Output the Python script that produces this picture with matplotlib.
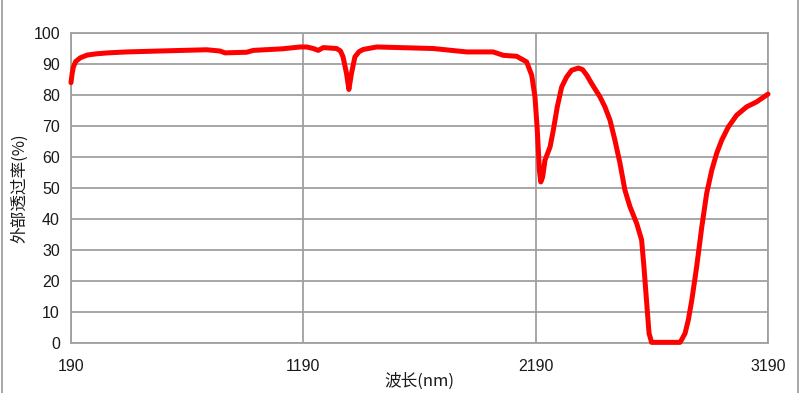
import matplotlib
matplotlib.use("Agg")
import matplotlib.pyplot as plt
from matplotlib.lines import Line2D

wavelength = [190, 195, 200, 210, 230, 260, 300, 350, 430, 573, 774, 831, 853, 900, 946, 975,
              1100, 1176, 1204, 1233, 1254, 1276, 1333, 1350, 1361, 1376, 1386, 1397, 1412,
              1430, 1448, 1506, 1749, 1893, 2007, 2051, 2108, 2151, 2173, 2187, 2197, 2206,
              2212, 2220, 2230, 2252, 2266, 2283, 2302, 2323, 2345, 2374, 2392, 2410, 2431,
              2467, 2488, 2510, 2531, 2553, 2574, 2596, 2625, 2646, 2656, 2668, 2678, 2689,
              2811, 2818, 2833, 2847, 2862, 2883, 2905, 2926, 2948, 2969, 2991, 3019, 3055,
              3098, 3141, 3190]
transmittance = [84, 87, 89, 90.8, 92, 92.9, 93.3, 93.6, 93.9, 94.2, 94.6, 94.2, 93.6, 93.7,
                 93.8, 94.4, 94.9, 95.5, 95.5, 95.0, 94.4, 95.3, 95.0, 94.2, 92.3, 86.9, 81.8,
                 86.9, 92.3, 94.0, 94.7, 95.5, 95.0, 93.9, 93.9, 92.8, 92.5, 90.7, 86.4, 79.4,
                 68.7, 55.8, 52.0, 53.6, 59.0, 63.3, 68.7, 76.2, 82.6, 85.8, 88.0, 88.7, 88.2,
                 86.4, 83.7, 79.4, 76.2, 71.9, 65.5, 58.0, 49.4, 44.0, 38.6, 33.3, 24.7, 12.9,
                 3.2, 0.3, 0.3, 1.1, 3.2, 7.5, 13.9, 24.7, 37.5, 48.3, 55.8, 61.2, 65.5, 69.7,
                 73.5, 76.2, 77.8, 80.3]

x_ticks = [190, 1190, 2190, 3190]
y_ticks = list(range(0, 101, 10))

fig = plt.figure(figsize=(8.0, 3.93), dpi=100)
ax = fig.add_axes([71/800, 1-343.3/393, (768-71)/800, (343.3-33)/393])

ax.plot(wavelength, transmittance, color="#ff0000", lw=3.6, solid_joinstyle="round",
        solid_capstyle="round", zorder=3, clip_on=False)

ax.set_xlim(190, 3190)
ax.set_ylim(0, 100)
ax.set_xticks(x_ticks)
ax.set_yticks(y_ticks)
ax.grid(True, color="#a0a0a0", lw=1.3)
ax.set_axisbelow(True)
for s in ax.spines.values():
    s.set_color("#a0a0a0")
    s.set_linewidth(1.3)
ax.tick_params(length=0, labelsize=11.5, pad=8, labelcolor="#1a1a1a")
for lab in ax.get_xticklabels() + ax.get_yticklabels():
    lab.set_fontfamily(["Liberation Sans", "DejaVu Sans"])
ax.tick_params(axis="x", pad=11)

cjk = ["Noto Sans CJK SC", "DejaVu Sans"]
fig.text(419/800, 1-381/393, "波长(nm)", fontsize=12, family=cjk, ha="center", va="center",
         color="#1a1a1a")
fig.text(20/800, 1-188/393, "外部透过率(%)", fontsize=12, family=cjk, ha="center", va="center",
         rotation=90, color="#1a1a1a")

fig.add_artist(Line2D([1.5/800, 1.5/800], [0, 1], color="#a0a0a0", lw=1.3))
fig.add_artist(Line2D([798/800, 798/800], [0, 1], color="#a0a0a0", lw=1.3))

fig.savefig("out.png", dpi=100)
